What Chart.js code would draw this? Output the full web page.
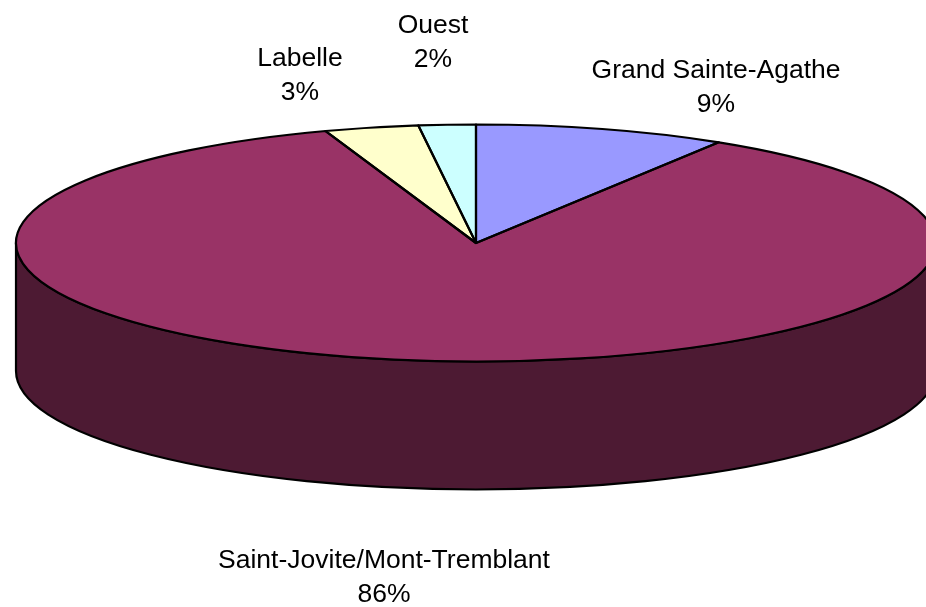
<!DOCTYPE html>
<html><head><meta charset="utf-8">
<style>html,body{margin:0;padding:0;background:#fff}canvas{display:block}</style>
<script src="https://cdn.jsdelivr.net/npm/chart.js@4"></script></head>
<body><div style="width:926px;height:607px"><canvas id="c" width="926" height="607"></canvas></div>
<script>
const categories = ["Grand Sainte-Agathe","Saint-Jovite/Mont-Tremblant","Labelle","Ouest"];
const shares = [8.85,85.85,3.3,2.0];
const shownPercent = ["9%","86%","3%","2%"];
const sliceColors = ["#9999FF","#993366","#FFFFCC","#CCFFFF"];
const sideColors = ["#4D4D80","#4D1A33","#808066","#668080"];
const labelAnchors = [[716,78],[384,568],[300,66],[433,33]];
const TILT = 118.5/460, DEPTH = 128, RADIUS = 460, LINE = 2.2;

const pie3d = {
  id:'pie3d',
  beforeDatasetsDraw(chart){
    const ctx = chart.ctx, arcs = chart.getDatasetMeta(0).data;
    const {x,y} = arcs[0];
    arcs.forEach((a,i)=>{
      const segs=[[a.startAngle,a.endAngle],[a.startAngle-2*Math.PI,a.endAngle-2*Math.PI]];
      segs.forEach(([p,q])=>{
        const u=Math.max(p,0),v=Math.min(q,Math.PI);
        if(v<=u) return;
        ctx.beginPath();
        ctx.ellipse(x,y,RADIUS,RADIUS*TILT,0,u,v);
        ctx.ellipse(x,y+DEPTH,RADIUS,RADIUS*TILT,0,v,u,true);
        ctx.closePath();
        ctx.fillStyle=sideColors[i];ctx.fill();
        ctx.strokeStyle='#000';ctx.lineWidth=LINE;ctx.stroke();
      });
    });
    ctx.save();
    ctx.translate(x,y);ctx.scale(1,TILT);ctx.translate(-x,-y);
  },
  afterDatasetsDraw(chart){
    const ctx = chart.ctx, arcs = chart.getDatasetMeta(0).data;
    ctx.restore();
    arcs.forEach(a=>{
      ctx.beginPath();
      ctx.moveTo(a.x,a.y);
      ctx.ellipse(a.x,a.y,RADIUS,RADIUS*TILT,0,a.startAngle,a.endAngle);
      ctx.closePath();
      ctx.strokeStyle='#000';ctx.lineWidth=LINE;ctx.lineJoin='round';ctx.stroke();
    });
  },
  afterDraw(chart){
    const ctx = chart.ctx;
    ctx.save();
    ctx.fillStyle='#000';ctx.font='26.5px "Liberation Sans", Arial, sans-serif';
    ctx.textAlign='center';ctx.textBaseline='alphabetic';
    categories.forEach((c,i)=>{
      const [lx,ly]=labelAnchors[i];
      ctx.fillText(c,lx,ly);
      ctx.fillText(shownPercent[i],lx,ly+33.5);
    });
    ctx.restore();
  }
};
new Chart(document.getElementById('c'),{
  type:'pie',
  data:{labels:categories,datasets:[{data:shares,backgroundColor:sliceColors,borderWidth:0,clip:false}]},
  options:{responsive:false,animation:false,radius:RADIUS,
    layout:{padding:{left:26,right:0,top:0,bottom:121}},
    plugins:{legend:{display:false},tooltip:{enabled:false}},
    events:[]},
  plugins:[pie3d]
});
</script></body></html>
